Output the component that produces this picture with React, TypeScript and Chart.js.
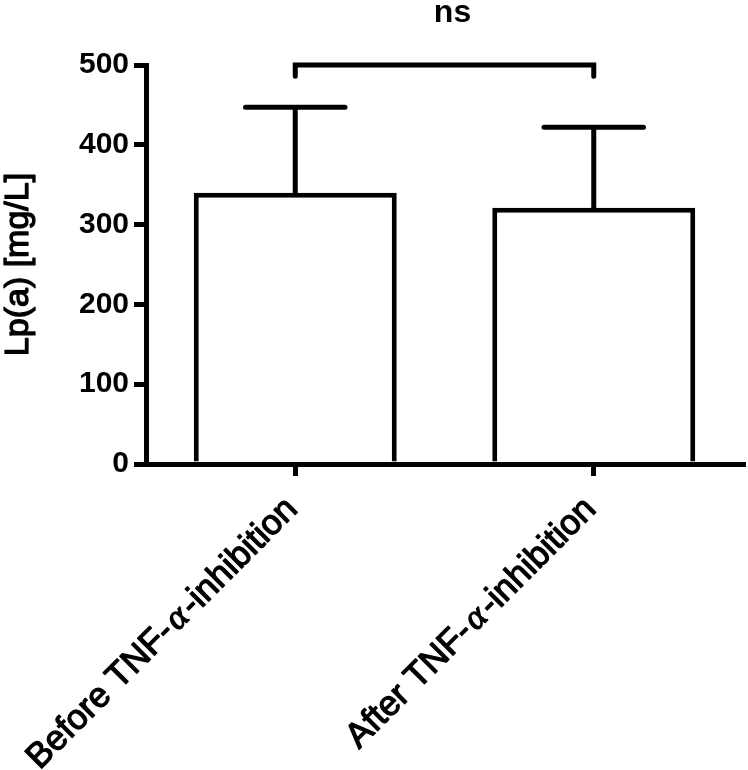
import React, { useEffect, useRef } from "react";
import { Chart, registerables } from "chart.js";

Chart.register(...registerables);

// ---- data ----
const categories = ["Before TNF-α-inhibition", "After TNF-α-inhibition"];
const labelParts = [
  ["Before TNF-", "α", "-inhibition"],
  ["After TNF-", "α", "-inhibition"],
];
const means = [340, 321];
const upperErrors = [447, 422];
const yMin = 0;
const yMax = 500;
const yStep = 100;
const yTitle = "Lp(a) [mg/L]";
const sigLabel = "ns";
const bracketLevel = 500;
const bracketDropLevel = 486;

const SANS = "'Liberation Sans', Arial, Helvetica, sans-serif";
const SERIF = "'Liberation Serif', 'DejaVu Serif', serif";

const annotations = {
  id: "annotations",
  afterDatasetsDraw(chart: any) {
    const ctx = chart.ctx;
    const yScale = chart.scales.y;
    const meta = chart.getDatasetMeta(0);
    ctx.save();
    ctx.strokeStyle = "#000";
    ctx.lineWidth = 5;
    ctx.lineCap = "round";
    meta.data.forEach((bar: any, i: number) => {
      const p = bar.getProps(["x", "width"], true);
      const yTop = yScale.getPixelForValue(upperErrors[i]);
      const yBar = yScale.getPixelForValue(means[i]);
      const half = p.width / 4 - 1;
      ctx.beginPath();
      ctx.moveTo(p.x, yBar);
      ctx.lineTo(p.x, yTop);
      ctx.moveTo(p.x - half, yTop);
      ctx.lineTo(p.x + half, yTop);
      ctx.stroke();
    });
    ctx.restore();
  },
  afterDraw(chart: any) {
    const ctx = chart.ctx;
    const xScale = chart.scales.x;
    const yScale = chart.scales.y;
    const x0 = xScale.getPixelForValue(0);
    const x1 = xScale.getPixelForValue(1);
    const yb = yScale.getPixelForValue(bracketLevel);
    const yd = yScale.getPixelForValue(bracketDropLevel);
    ctx.save();
    // significance bracket
    ctx.strokeStyle = "#000";
    ctx.lineWidth = 5;
    ctx.lineCap = "round";
    ctx.lineJoin = "miter";
    ctx.beginPath();
    ctx.moveTo(x0, yd);
    ctx.lineTo(x0, yb);
    ctx.lineTo(x1, yb);
    ctx.lineTo(x1, yd);
    ctx.stroke();
    ctx.fillStyle = "#000";
    ctx.font = `bold 32px ${SANS}`;
    ctx.textAlign = "center";
    ctx.textBaseline = "alphabetic";
    ctx.fillText(sigLabel, (x0 + x1) / 2 + 8, yb - 43);

    // y-axis title (regular weight, slightly thickened)
    ctx.save();
    ctx.font = `34px ${SANS}`;
    ctx.lineWidth = 1.3;
    ctx.lineJoin = "round";
    ctx.translate(19, (chart.chartArea.top + chart.chartArea.bottom) / 2);
    ctx.rotate(-Math.PI / 2);
    ctx.textAlign = "center";
    ctx.textBaseline = "middle";
    ctx.fillText(yTitle, 0, 0);
    ctx.strokeText(yTitle, 0, 0);
    ctx.restore();

    // rotated category labels
    const fs = 35;
    const fonts = [`${fs}px ${SANS}`, `italic ${fs}px ${SERIF}`, `${fs}px ${SANS}`];
    const gap = 3;
    ctx.lineWidth = 1.3;
    ctx.lineJoin = "round";
    categories.forEach((_, i) => {
      const tx = xScale.getPixelForValue(i);
      const parts = labelParts[i];
      let total = 0;
      const widths = parts.map((s, k) => {
        ctx.font = fonts[k];
        const w = ctx.measureText(s).width + (k === 1 ? 2 * gap : 0);
        total += w;
        return w;
      });
      ctx.save();
      ctx.translate(tx - 3, xScale.top + 40);
      ctx.rotate(-Math.PI / 4);
      ctx.textAlign = "left";
      ctx.textBaseline = "middle";
      let cx = -total;
      parts.forEach((s, k) => {
        ctx.font = fonts[k];
        const px = cx + (k === 1 ? gap : 0);
        ctx.fillText(s, px, 0);
        ctx.strokeText(s, px, 0);
        cx += widths[k];
      });
      ctx.restore();
    });
    ctx.restore();
  },
};

export default function App() {
  const ref = useRef<HTMLCanvasElement | null>(null);
  useEffect(() => {
    if (!ref.current) return;
    const chart = new Chart(ref.current, {
      type: "bar",
      data: {
        labels: categories,
        datasets: [
          {
            data: means,
            backgroundColor: "#fff",
            borderColor: "#000",
            borderWidth: 5,
            borderSkipped: "start",
            barPercentage: 0.68,
            categoryPercentage: 1,
          },
        ],
      },
      options: {
        responsive: false,
        animation: false,
        devicePixelRatio: 1,
        layout: { padding: { top: 65, right: 5, left: 0, bottom: 0 } },
        plugins: { legend: { display: false }, tooltip: { enabled: false } },
        scales: {
          x: {
            grid: {
              display: true,
              drawOnChartArea: false,
              drawTicks: true,
              offset: false,
              tickLength: 12,
              lineWidth: 5,
              color: "#000",
            },
            border: { display: true, width: 5, color: "#000" },
            ticks: { display: false },
            afterFit: (s: any) => {
              s.height = 306;
            },
          },
          y: {
            min: yMin,
            max: yMax,
            grid: {
              display: true,
              drawOnChartArea: false,
              drawTicks: true,
              tickLength: 12,
              lineWidth: 5,
              color: "#000",
            },
            border: { display: true, width: 5, color: "#000" },
            ticks: {
              stepSize: yStep,
              color: "#000",
              padding: 5,
              font: { family: SANS, size: 30, weight: "bold" },
            },
            title: { display: false },
            afterFit: (s: any) => {
              s.width = 146;
            },
          },
        },
      },
      plugins: [annotations],
    });
    return () => chart.destroy();
  }, []);
  return (
    <div style={{ position: "fixed", left: 0, top: 0, width: 748, height: 770, background: "#fff" }}>
      <canvas ref={ref} width={748} height={770} />
    </div>
  );
}
